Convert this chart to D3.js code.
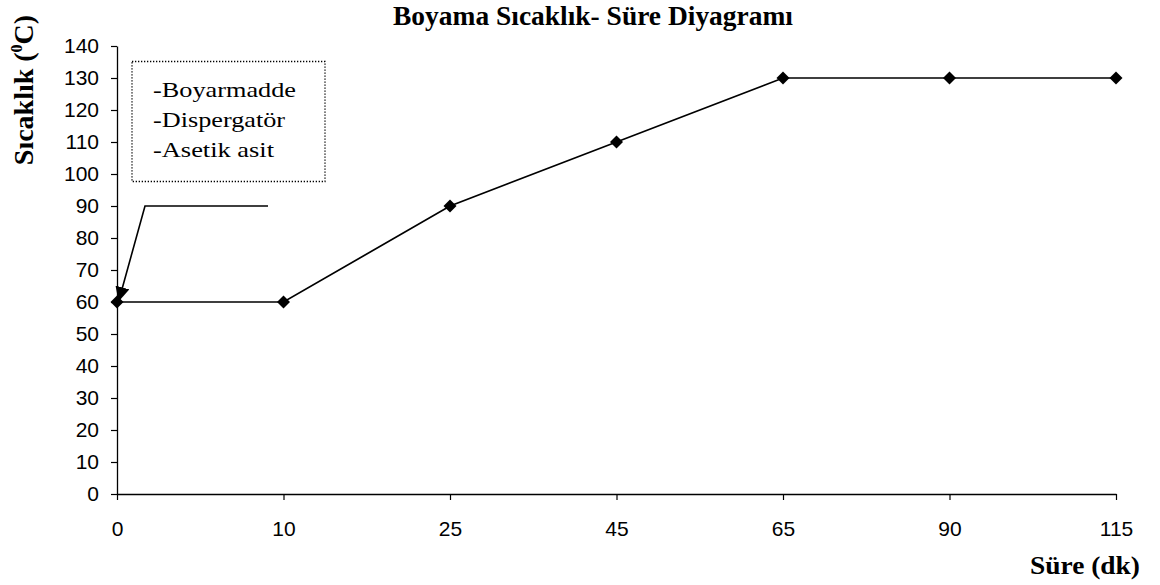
<!DOCTYPE html>
<html>
<head>
<meta charset="utf-8">
<script src="https://cdn.jsdelivr.net/npm/d3@7"></script>
<style>
  html, body { margin: 0; padding: 0; background: #fff; }
  svg { display: block; }
</style>
</head>
<body>
<svg id="chart" width="1160" height="585"></svg>
<script>
// Dyeing profile: time (min) vs temperature (°C)
const categories = ["0", "10", "25", "45", "65", "90", "115"];
const temperatures = [60, 60, 90, 110, 130, 130, 130];
const yTicks = [0, 10, 20, 30, 40, 50, 60, 70, 80, 90, 100, 110, 120, 130, 140];
const additives = ["-Boyarmadde", "-Dispergatör", "-Asetik asit"];
const additiveWidths = [143, 132, 121];
const additionTemp = 90;   // level of the callout line for chemical addition

const svg = d3.select("#chart");
const serif = "'Liberation Serif', 'Times New Roman', serif";
const sans = "'Liberation Sans', Arial, sans-serif";

const x = d3.scalePoint().domain(categories).range([117, 1116]);
const y = d3.scaleLinear().domain([0, 140]).range([494, 46]);

// Y axis
const yAxis = svg.append("g")
  .attr("transform", "translate(117,0)")
  .call(d3.axisLeft(y).tickValues(yTicks).tickSize(6).tickPadding(12).tickSizeOuter(0));
yAxis.select(".domain").attr("stroke", "#000").attr("stroke-width", 1.3);
yAxis.selectAll(".tick line").attr("stroke", "#000").attr("stroke-width", 1.2);
yAxis.selectAll(".tick text").attr("font-family", sans).attr("font-size", 21).attr("fill", "#000");

// X axis
const xAxis = svg.append("g")
  .attr("transform", "translate(0,494)")
  .call(d3.axisBottom(x).tickSize(6).tickPadding(21).tickSizeOuter(0));
xAxis.select(".domain").attr("stroke", "#000").attr("stroke-width", 1.3);
xAxis.selectAll(".tick line").attr("stroke", "#000").attr("stroke-width", 1.2);
xAxis.selectAll(".tick text").attr("font-family", sans).attr("font-size", 21).attr("fill", "#000");

// Temperature line
const line = d3.line()
  .x((d, i) => x(categories[i]))
  .y(d => y(d));
svg.append("path")
  .datum(temperatures)
  .attr("d", line)
  .attr("fill", "none")
  .attr("stroke", "#000")
  .attr("stroke-width", 1.7);

// Diamond markers
svg.selectAll(".marker")
  .data(temperatures)
  .join("path")
  .attr("class", "marker")
  .attr("transform", (d, i) => `translate(${x(categories[i])},${y(d)})`)
  .attr("d", "M0,-6.5L6.5,0L0,6.5L-6.5,0Z")
  .attr("fill", "#000");

// Callout: additives added at the start of the process
const box = svg.append("g");
box.append("rect")
  .attr("x", 132).attr("y", 61.5)
  .attr("width", 193).attr("height", 120)
  .attr("fill", "#fff")
  .attr("stroke", "#000")
  .attr("stroke-width", 1.3)
  .attr("stroke-dasharray", "1.3,1.7");
box.selectAll("text")
  .data(additives)
  .join("text")
  .attr("x", 153)
  .attr("y", (d, i) => 96.5 + i * 30)
  .attr("font-family", serif)
  .attr("font-size", 21)
  .attr("textLength", (d, i) => additiveWidths[i])
  .attr("lengthAdjust", "spacingAndGlyphs")
  .attr("fill", "#000")
  .text(d => d);

// Arrow from the callout level down to the first point
const x0 = x(categories[0]);
const yStart = y(temperatures[0]);
const yCall = y(additionTemp);
svg.append("defs").append("marker")
  .attr("id", "arrowhead")
  .attr("viewBox", "0 0 10 10")
  .attr("refX", 9).attr("refY", 5)
  .attr("markerWidth", 9).attr("markerHeight", 9)
  .attr("markerUnits", "strokeWidth")
  .attr("orient", "auto")
  .append("path")
  .attr("d", "M0,0L10,5L0,10Z")
  .attr("fill", "#000");
svg.append("path")
  .attr("d", `M268,${yCall}L145,${yCall}L${x0 + 2},${yStart - 2}`)
  .attr("fill", "none")
  .attr("stroke", "#000")
  .attr("stroke-width", 1.6)
  .attr("marker-end", "url(#arrowhead)");

// Title
svg.append("text")
  .attr("x", 593).attr("y", 25)
  .attr("text-anchor", "middle")
  .attr("font-family", serif)
  .attr("font-weight", "bold")
  .attr("font-size", 26.5)
  .attr("textLength", 400)
  .attr("lengthAdjust", "spacingAndGlyphs")
  .attr("fill", "#000")
  .text("Boyama Sıcaklık- Süre Diyagramı");

// Axis titles
const yTitle = svg.append("text")
  .attr("transform", "translate(33,90) rotate(-90)")
  .attr("text-anchor", "middle")
  .attr("font-family", serif)
  .attr("font-weight", "bold")
  .attr("font-size", 28)
  .attr("fill", "#000");
yTitle.append("tspan").text("Sıcaklık (");
yTitle.append("tspan").attr("font-size", 16).attr("dy", -11).text("0");
yTitle.append("tspan").attr("dy", 11).text("C)");

svg.append("text")
  .attr("x", 1140).attr("y", 574)
  .attr("text-anchor", "end")
  .attr("font-family", serif)
  .attr("font-weight", "bold")
  .attr("font-size", 25)
  .attr("textLength", 110)
  .attr("lengthAdjust", "spacingAndGlyphs")
  .attr("fill", "#000")
  .text("Süre (dk)");
</script>
</body>
</html>
